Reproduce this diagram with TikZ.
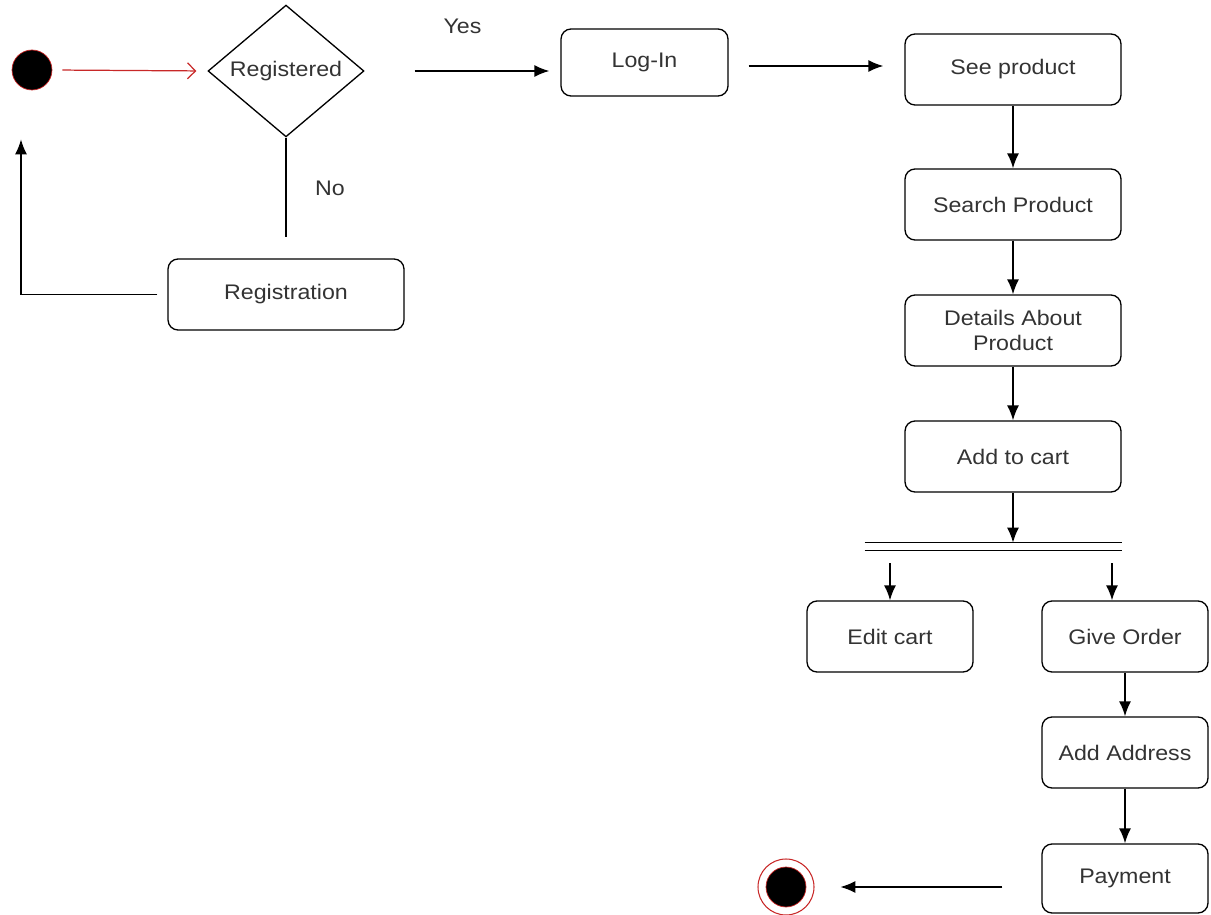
\documentclass[tikz,border=0pt]{standalone}
\usepackage{fontspec}
\setmainfont[FakeStretch=1.1]{Liberation Sans}
\usetikzlibrary{shapes.geometric,arrows.meta}
\definecolor{startred}{RGB}{200,40,40}
\begin{document}
\begin{tikzpicture}[>={Latex[length=0.3cm,width=0.24cm]}, x=0.02cm, y=-0.02cm, font=\fontsize{12}{14}\selectfont,
  act/.style={draw, rounded corners=0.2cm, line width=0.75pt, minimum width=3.32cm, minimum height=1.42cm, align=center, text=black!80},
  decision/.style={diamond, draw, line width=0.75pt, minimum width=3.12cm, minimum height=2.36cm, inner sep=0pt, text=black!80},
  flow/.style={->, line width=0.9pt}]
\useasboundingbox (0,0) rectangle (1211,915);
% start and decision
\node[circle, fill=black, draw=startred, minimum size=0.8cm] (start) at (32,70) {};
\node[decision] (reg) at (286,71) {Registered};
\node[act, minimum width=4.72cm] (regn) at (286,294.5) {Registration};
\node[act, minimum width=3.34cm, minimum height=1.34cm] (login) at (644.5,62.5) {Log-In};
% main column
\node[act, minimum width=4.32cm] (see) at (1013,69.5) {See product};
\node[act, minimum width=4.32cm] (search) at (1013,204.5) {Search Product};
\node[act, minimum width=4.32cm] (details) at (1013,330.5) {Details About\\Product};
\node[act, minimum width=4.32cm] (cart) at (1013,456.5) {Add to cart};
\node[inner sep=0pt, minimum width=5.14cm, minimum height=0.14cm] (fork) at (993.5,546.5) {};
\draw[line width=0.9pt] (fork.north west) -- (fork.north east);
\draw[line width=0.9pt] (fork.south west) -- (fork.south east);
\node[act] (edit) at (890,636.5) {Edit cart};
\node[act] (order) at (1125,636.5) {Give Order};
\node[act] (addr) at (1125,752.5) {Add Address};
\node[act, minimum height=1.38cm] (pay) at (1125,878.5) {Payment};
% end
\node[circle, fill=black, draw=startred, minimum size=0.8cm] (fin) at (786,887) {};
\node[circle, draw=startred, line width=0.6pt, minimum size=1.12cm] (finring) at (786,887) {};

\draw[startred, line width=0.7pt, -{Straight Barb[length=0.16cm,width=0.32cm]}, shorten <=0.2cm, shorten >=0.22cm] (start.east) -- (reg.west);
\draw[flow, shorten <=1cm, shorten >=0.22cm] (reg.east) -- (reg.east -| login.west) node[midway, above=0.62cm, text=black!80]{Yes};
\draw[line width=0.9pt, shorten >=0.42cm] (reg.south) -- (regn.north) node[pos=0.42, right=0.45cm, text=black!80]{No};
\draw[flow, shorten <=0.2cm, shorten >=0.98cm] (regn.west) -| ([xshift=-0.22cm]start.south);
\draw[flow, shorten <=0.4cm, shorten >=0.42cm] ([yshift=-0.07cm]login.east) -- ([yshift=-0.07cm]login.east -| see.west);
\draw[flow] (see) -- (search);
\draw[flow] (search) -- (details);
\draw[flow] (details) -- (cart);
\draw[flow] (cart.south) -- (cart.south |- fork.north);
\draw[flow, shorten <=0.26cm] (edit.north |- fork.south) -- (edit.north);
\draw[flow, shorten <=0.26cm] ([xshift=-0.26cm]order.north |- fork.south) -- ([xshift=-0.26cm]order.north);
\draw[flow] (order) -- (addr);
\draw[flow] (addr) -- (pay);
\draw[flow, shorten <=0.78cm, shorten >=0.68cm] (pay.west |- fin) -- (fin.east);
\end{tikzpicture}
\end{document}
